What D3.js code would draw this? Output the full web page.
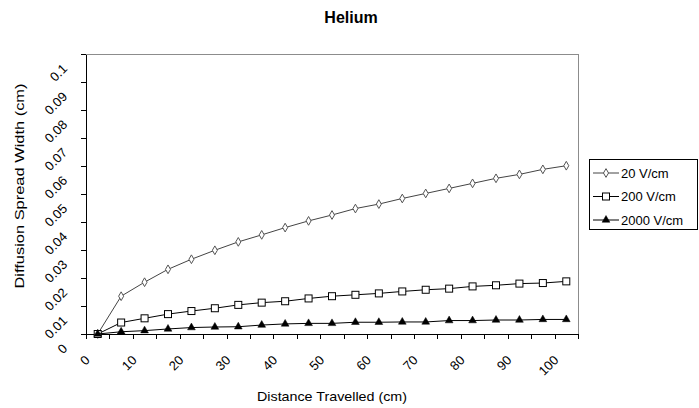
<!DOCTYPE html>
<html><head><meta charset="utf-8">
<script src="https://cdn.jsdelivr.net/npm/d3@7/dist/d3.min.js"></script>
<style>
body{margin:0;background:#fff;}
svg{display:block;font-family:"Liberation Sans",Arial,sans-serif;}
</style>
</head><body>
<svg id="c" width="699" height="408"></svg>
<script>
// ---- data ----
const categories = [0,5,10,15,20,25,30,35,40,45,50,55,60,65,70,75,80,85,90,95,100];
const xTickLabels = [0,10,20,30,40,50,60,70,80,90,100];
const yTickValues = [0,0.01,0.02,0.03,0.04,0.05,0.06,0.07,0.08,0.09,0.1];
const seriesNames = ["20 V/cm","200 V/cm","2000 V/cm"];
const s20   = [0,0.0135,0.0185,0.0231,0.0267,0.0299,0.0329,0.0354,0.0380,0.0404,0.0425,0.0448,0.0464,0.0484,0.0502,0.0520,0.0538,0.0556,0.0570,0.0588,0.0601];
const s200  = [0,0.0041,0.0056,0.0071,0.0082,0.0092,0.0104,0.0112,0.0117,0.0127,0.0135,0.0140,0.0145,0.0152,0.0158,0.0162,0.0170,0.0174,0.0180,0.0182,0.0188];
const s2000 = [0,0.0008,0.0012,0.0018,0.0023,0.0025,0.0026,0.0032,0.0036,0.0038,0.0038,0.0042,0.0042,0.0043,0.0043,0.0048,0.0048,0.0050,0.0050,0.0052,0.0052];
const titleText = "Helium";
const xTitle = "Distance Travelled (cm)";
const yTitle = "Diffusion Spread Width (cm)";

// ---- layout ----
const L = 86, R = 578, T = 54, B = 334;
const svg = d3.select("#c");

const x = d3.scaleBand().domain(categories).range([L, R]).padding(0);
const xc = d => x(d) + x.bandwidth() / 2;
const xb = d3.scaleLinear().domain([0, categories.length]).range([L, R]);
const y = d3.scaleLinear().domain([0, 0.1]).range([B, T]);

// plot border
svg.append("rect").attr("x", L).attr("y", T).attr("width", R - L).attr("height", B - T)
  .attr("fill", "#fff").attr("stroke", "#8c8c8c").attr("stroke-width", 1)
  .attr("shape-rendering", "crispEdges");

// y axis
const fmtY = d => d === 0 ? "0" : String(+d.toFixed(2));
const gy = svg.append("g").attr("transform", `translate(${L},0)`)
  .call(d3.axisLeft(y).tickValues(yTickValues).tickSize(5).tickSizeOuter(0).tickFormat(fmtY));
gy.selectAll("path,line").attr("stroke", "#000").attr("shape-rendering", "crispEdges");
gy.selectAll("text").attr("x", null).attr("dy", null)
  .attr("transform", "translate(-18,15) rotate(-45)")
  .attr("text-anchor", "end").attr("fill", "#000")
  .style("font-size", "13px").style("font-family", "'Liberation Sans',Arial,sans-serif");

// x axis: boundary ticks
const gxb = svg.append("g").attr("transform", `translate(0,${B})`)
  .call(d3.axisBottom(xb).tickValues(d3.range(categories.length + 1)).tickSize(5).tickSizeOuter(0).tickFormat(""));
gxb.selectAll("path,line").attr("stroke", "#000").attr("shape-rendering", "crispEdges");

// x axis labels
const gx = svg.append("g").attr("transform", `translate(0,${B})`)
  .call(d3.axisBottom(x).tickValues(xTickLabels).tickSize(0).tickFormat(d => String(d)));
gx.select(".domain").remove();
gx.selectAll("text").attr("y", null).attr("dy", null)
  .attr("transform", "translate(-7,27) rotate(-45)")
  .attr("text-anchor", "end").attr("fill", "#000")
  .style("font-size", "13px").style("font-family", "'Liberation Sans',Arial,sans-serif");

// series
const line = d3.line().x((d, i) => xc(categories[i])).y(d => y(d));
const seriesData = [s20, s200, s2000];
const lineColors = ["#444", "#000", "#000"];

function marker(g, type, cx, cy) {
  if (type === 0) {
    g.append("path").attr("d", d3.symbol(d3.symbolDiamond, 22)())
      .attr("transform", `translate(${cx},${cy})`)
      .attr("fill", "#fff").attr("stroke", "#555").attr("stroke-width", 1);
  } else if (type === 1) {
    g.append("rect").attr("x", cx - 3.5).attr("y", cy - 3.5).attr("width", 7).attr("height", 7)
      .attr("fill", "#fff").attr("stroke", "#000").attr("stroke-width", 1);
  } else {
    g.append("path").attr("d", d3.symbol(d3.symbolTriangle, 26)())
      .attr("transform", `translate(${cx},${cy})`)
      .attr("fill", "#000").attr("stroke", "#000").attr("stroke-width", 0.5);
  }
}

seriesData.forEach((s, k) => {
  const g = svg.append("g");
  g.append("path").attr("d", line(s)).attr("fill", "none")
    .attr("stroke", lineColors[k]).attr("stroke-width", 1);
  s.forEach((v, i) => marker(g, k, xc(categories[i]), y(v)));
});

// legend
const lg = svg.append("g");
lg.append("rect").attr("x", 589.5).attr("y", 159.5).attr("width", 108).attr("height", 70)
  .attr("fill", "#fff").attr("stroke", "#000").attr("stroke-width", 1);
const rows = [173, 196.5, 220];
seriesNames.forEach((n, k) => {
  const ry = rows[k];
  lg.append("line").attr("x1", 593).attr("x2", 619).attr("y1", ry).attr("y2", ry)
    .attr("stroke", lineColors[k]).attr("stroke-width", 1);
  marker(lg, k, 606, ry);
  lg.append("text").attr("x", 621).attr("y", ry + 4.5).text(n)
    .style("font-size", "13px").attr("fill", "#000");
});

// titles
svg.append("text").attr("x", 351).attr("y", 23).attr("text-anchor", "middle")
  .style("font-size", "16px").style("font-weight", "bold").text(titleText);
svg.append("text").attr("x", 332).attr("y", 401).attr("text-anchor", "middle")
  .style("font-size", "13px").attr("textLength", 150).attr("lengthAdjust", "spacingAndGlyphs").text(xTitle);
svg.append("text").attr("transform", "translate(24,186) rotate(-90)").attr("text-anchor", "middle")
  .style("font-size", "13px").attr("textLength", 205).attr("lengthAdjust", "spacingAndGlyphs").text(yTitle);
</script>
</body></html>
